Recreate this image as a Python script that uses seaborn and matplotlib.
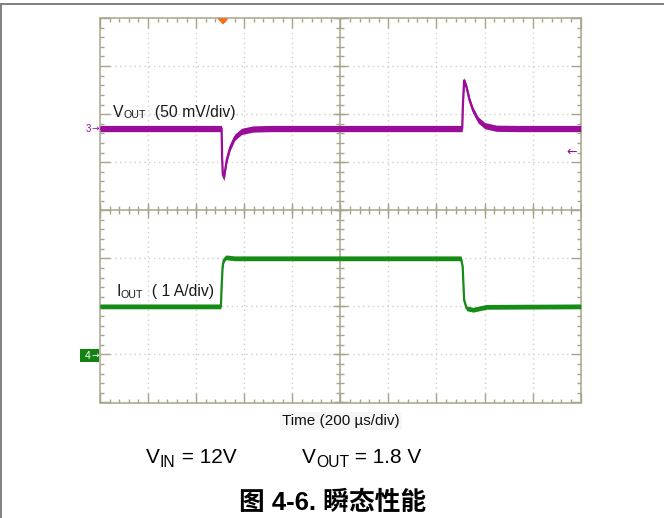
import numpy as np
import pandas as pd
import matplotlib
matplotlib.use("Agg")
import matplotlib.pyplot as plt
from matplotlib.lines import Line2D
from matplotlib.patches import Rectangle
import seaborn as sns

# ---- scope settings -------------------------------------------------------
TIME_PER_DIV_US = 200          # horizontal scale
VOUT_MV_PER_DIV = 50           # channel 3 scale
IOUT_A_PER_DIV = 1             # channel 4 scale
VOUT_OFFSET_DIV = 1.70         # channel 3 marker position
IOUT_OFFSET_DIV = -3.0         # channel 4 ground marker position
TRIGGER_T_US = 507             # trigger position
TRIGGER_LEVEL_DIV = 1.21       # trigger level arrow

# ---- waveforms read from the capture --------------------------------------
vout_time_us = [0, 506, 508, 511, 516, 527, 541, 561, 589, 636, 707, 1000,
                1507, 1510, 1515, 1525, 1538, 1552, 1573, 1601, 1649, 1746, 2000]
vout_dev_mv = [0, 0, -30, -48, -51, -33, -20, -9, -3, -0.5, 0, 0,
               0, 25, 50, 43, 29, 19, 9, 3, 0.3, 0, 0]

iout_time_us = [0, 503, 506, 510, 515, 524, 560,
                1502, 1509, 1515, 1525, 1552, 1608, 2000]
iout_a = [1.0, 1.0, 1.4, 1.82, 1.96, 2.02, 2.0,
          2.0, 1.82, 1.13, 0.96, 0.93, 0.99, 1.0]

# ---- text -----------------------------------------------------------------
time_label = "Time (200 \u00b5s/div)"
caption = "\u56fe 4-6. \u77ac\u6001\u6027\u80fd"

sns.set_style("white")
plt.rcParams["font.family"] = ["Liberation Sans", "DejaVu Sans"]

W, H = 664, 518
fig = plt.figure(figsize=(W / 100, H / 100), dpi=100)
fig.patch.set_facecolor("white")

# page rule lines
fig.add_artist(Line2D([0, 1], [1 - 4 / H] * 2, transform=fig.transFigure,
                      color="#808080", lw=1.4))
fig.add_artist(Line2D([0.8 / W] * 2, [0, 1 - 4 / H], transform=fig.transFigure,
                      color="#808080", lw=1.4))

L, R, T, B = 100, 580.7, 18, 402.5
ax = fig.add_axes([L / W, 1 - B / H, (R - L) / W, (B - T) / H])
ax.set_xlim(0, 10 * TIME_PER_DIV_US)
ax.set_ylim(-4, 4)

FRAME = "#a8a58c"
GRID = "#cfcfc6"
PURPLE = "#990d99"
GREEN = "#168c16"

for s in ax.spines.values():
    s.set_color(FRAME)
    s.set_linewidth(1.1)

ax.set_xticks(np.arange(0, 2001, TIME_PER_DIV_US))
ax.set_xticks(np.arange(0, 2001, TIME_PER_DIV_US / 5), minor=True)
ax.set_yticks(np.arange(-4, 5, 1))
ax.set_yticks(np.arange(-4, 4.01, 0.2), minor=True)
ax.tick_params(which="both", direction="in", top=True, right=True,
               bottom=True, left=True, color=FRAME, width=1.0,
               labelbottom=False, labelleft=False)
ax.tick_params(which="major", length=7.2)
ax.tick_params(which="minor", length=3.2)

# dotted graticule
for k in range(1, 10):
    if k != 5:
        ax.axvline(k * TIME_PER_DIV_US, color=GRID, lw=1.0,
                   ls=(0, (1, 2.5)), zorder=0)
for k in range(-3, 4):
    if k != 0:
        ax.axhline(k, color=GRID, lw=1.0, ls=(0, (1, 2.5)), zorder=0)

# centre crosshair with tick marks
xc = 5 * TIME_PER_DIV_US
ax.axhline(0, color=FRAME, lw=1.1, zorder=1)
ax.axvline(xc, color=FRAME, lw=1.1, zorder=1)
xm = np.arange(0, 2001, TIME_PER_DIV_US / 5)
ax.plot(xm, np.zeros_like(xm), ls="none", marker="|", ms=5.5, mew=1.0,
        color=FRAME, zorder=1)
xM = np.arange(0, 2001, TIME_PER_DIV_US)
ax.plot(xM, np.zeros_like(xM), ls="none", marker="|", ms=10.8, mew=1.0,
        color=FRAME, zorder=1)
ym = np.arange(-4, 4.01, 0.2)
ax.plot(np.full_like(ym, xc), ym, ls="none", marker="_", ms=5.5, mew=1.0,
        color=FRAME, zorder=1)
yM = np.arange(-4, 5, 1)
ax.plot(np.full_like(yM, xc, dtype=float), yM, ls="none", marker="_",
        ms=10.8, mew=1.0, color=FRAME, zorder=1)

# traces
vout_df = pd.DataFrame({
    "t": vout_time_us,
    "div": VOUT_OFFSET_DIV + np.array(vout_dev_mv) / VOUT_MV_PER_DIV,
})
iout_df = pd.DataFrame({
    "t": iout_time_us,
    "div": IOUT_OFFSET_DIV + np.array(iout_a) / IOUT_A_PER_DIV,
})

ax.fill_between(vout_df["t"], vout_df["div"] - 0.065, vout_df["div"] + 0.065,
                color=PURPLE, lw=0, zorder=3)
sns.lineplot(data=vout_df, x="t", y="div", ax=ax, color=PURPLE, lw=1.6,
             sort=False, estimator=None, zorder=3)
ax.fill_between(iout_df["t"], iout_df["div"] - 0.05, iout_df["div"] + 0.05,
                color=GREEN, lw=0, zorder=3)
sns.lineplot(data=iout_df, x="t", y="div", ax=ax, color=GREEN, lw=1.6,
             sort=False, estimator=None, zorder=3)
ax.set_xlabel("")
ax.set_ylabel("")

# trigger position and level markers
ax.plot([TRIGGER_T_US], [3.946], ls="none",
        marker=[(-1, 0.55), (1, 0.55), (0, -0.55)], ms=6.8,
        color="#f07020", clip_on=False, zorder=5)
ax.text(1985, TRIGGER_LEVEL_DIV, "\u2190", color=PURPLE, fontsize=9,
        ha="right", va="center", family=["DejaVu Sans"], zorder=5)


def px(x, y):
    return x / W, 1 - y / H


renderer = fig.canvas.get_renderer()


def sub_text(x, y, base, sub, tail, size, ratio, drop, color="#1a1a1a",
             weight="normal"):
    t1 = fig.text(*px(x, y), base, fontsize=size, color=color,
                  ha="left", va="baseline", weight=weight)
    bb = t1.get_window_extent(renderer)
    t2 = fig.text(bb.x1 / W, 1 - (y + drop) / H, sub, fontsize=size * ratio,
                  color=color, ha="left", va="baseline", weight=weight)
    bb2 = t2.get_window_extent(renderer)
    fig.text(bb2.x1 / W, 1 - y / H, tail, fontsize=size, color=color,
             ha="left", va="baseline", weight=weight)


# channel labels
sub_text(113, 117, "V", "OUT", "  (50 mV/div)", 11.3, 0.68, 1.5)
sub_text(116, 296, "I", "OUT", "  ( 1 A/div)", 11.3, 0.68, 2.0)

# channel reference markers
fig.text(*px(86, 129), "3", fontsize=7, color=PURPLE, ha="left",
         va="center")
fig.text(*px(92, 128.5), "\u2192", fontsize=6.5, color=PURPLE, ha="left",
         va="center", family=["DejaVu Sans"])
fig.add_artist(Rectangle(px(80, 361.7), 19 / W, 12.7 / H,
                         transform=fig.transFigure, color="#138213",
                         lw=0))
fig.text(*px(85, 355.8), "4", fontsize=7.5, color="white", ha="left",
         va="center")
fig.text(*px(92, 355.3), "\u2192", fontsize=6.5, color="white", ha="left",
         va="center", family=["DejaVu Sans"])

# axis caption
fig.text(*px(341, 425), time_label, fontsize=11, color="#111111",
         ha="center", va="baseline",
         bbox=dict(boxstyle="square,pad=0.15", fc="#f6f6f6", ec="none"))

# operating conditions
sub_text(146, 463.3, "V", "IN", " = 12V", 15, 0.75, 4.0, color="black")
sub_text(302, 463.3, "V", "OUT", " = 1.8 V", 15, 0.75, 4.0, color="black")

fig.text(*px(333, 510), caption, fontsize=18.5, weight="bold",
         color="black", ha="center", va="baseline",
         family=["Liberation Sans", "Noto Sans CJK SC"])

fig.savefig("out.png", dpi=100, facecolor="white")
